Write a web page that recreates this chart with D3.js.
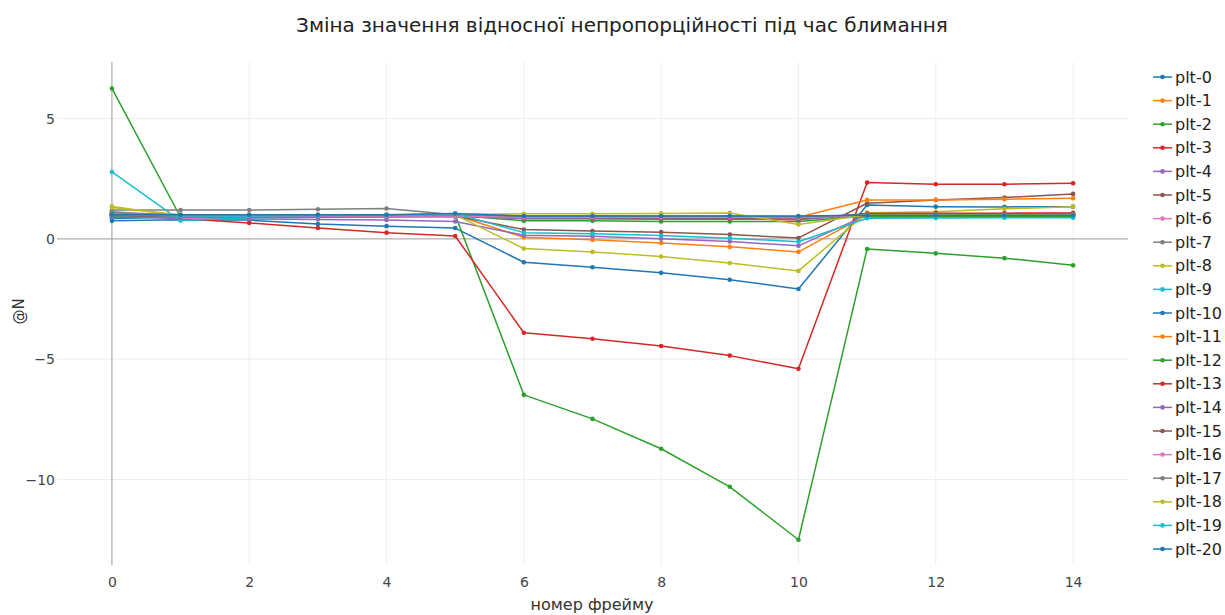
<!DOCTYPE html>
<html>
<head>
<meta charset="utf-8">
<script src="https://cdn.jsdelivr.net/npm/d3@7"></script>
<style>
  html, body { margin: 0; padding: 0; background: #fff; }
  svg { display: block; font-family: "DejaVu Sans", verdana, arial, sans-serif; }
</style>
</head>
<body>
<svg id="chart" width="1225" height="615"></svg>
<script>
// Frame numbers along the x axis
const frames = d3.range(0, 15);

// Series names, one per plot
const seriesNames = d3.range(0, 21).map(i => "plt-" + i);

// Relative disproportion per frame for each plot
const plt0  = [0.75, 0.80, 0.78, 0.62, 0.53, 0.45, -0.97, -1.18, -1.41, -1.70, -2.08, 1.41, 1.34, 1.33, 1.34];
const plt1  = [1.05, 0.90, 0.92, 0.95, 0.95, 0.98, 0.07, -0.04, -0.17, -0.33, -0.54, 1.00, 1.02, 1.03, 1.04];
const plt2  = [6.25, 0.90, 0.92, 0.95, 0.96, 1.00, -6.48, -7.48, -8.72, -10.30, -12.50, -0.42, -0.60, -0.80, -1.10];
const plt3  = [1.00, 0.85, 0.66, 0.45, 0.26, 0.12, -3.90, -4.15, -4.45, -4.85, -5.40, 2.34, 2.27, 2.27, 2.31];
const plt4  = [0.95, 0.85, 0.83, 0.81, 0.79, 0.72, 0.15, 0.11, 0.01, -0.11, -0.29, 1.00, 1.00, 1.00, 1.00];
const plt5  = [1.10, 0.90, 0.90, 0.92, 0.93, 0.95, 0.39, 0.33, 0.28, 0.18, 0.04, 1.48, 1.62, 1.72, 1.87];
const plt6  = [1.15, 0.85, 0.88, 0.90, 0.92, 0.92, 0.88, 0.87, 0.87, 0.86, 0.86, 1.00, 1.00, 1.00, 1.00];
const plt7  = [1.20, 1.20, 1.20, 1.23, 1.26, 1.00, 0.92, 0.92, 0.90, 0.90, 0.88, 1.02, 1.02, 1.02, 1.02];
const plt8  = [1.35, 0.95, 0.95, 0.97, 0.98, 1.00, -0.40, -0.54, -0.73, -1.00, -1.33, 1.09, 1.13, 1.25, 1.34];
const plt9  = [2.78, 0.76, 0.88, 0.90, 0.92, 0.95, 0.90, 0.90, 0.90, 0.90, 0.90, 0.90, 0.90, 0.90, 0.90];
const plt10 = [0.85, 0.90, 0.90, 0.92, 0.93, 1.02, 0.85, 0.85, 0.84, 0.84, 0.90, 1.00, 1.00, 1.00, 1.00];
const plt11 = [1.00, 0.95, 0.95, 0.97, 0.98, 1.00, 0.95, 0.95, 0.93, 0.93, 0.90, 1.62, 1.62, 1.65, 1.69];
const plt12 = [0.95, 0.92, 0.93, 0.95, 0.96, 0.98, 0.75, 0.75, 0.72, 0.72, 0.72, 0.95, 0.93, 0.92, 0.92];
const plt13 = [1.00, 0.90, 0.92, 0.93, 0.95, 0.97, 0.85, 0.85, 0.83, 0.83, 0.80, 1.05, 1.07, 1.07, 1.08];
const plt14 = [0.90, 0.90, 0.90, 0.92, 0.92, 0.93, 0.85, 0.85, 0.85, 0.85, 0.82, 0.98, 0.98, 0.98, 0.98];
const plt15 = [1.00, 0.95, 0.96, 0.97, 0.98, 1.00, 0.90, 0.88, 0.88, 0.87, 0.85, 1.02, 1.03, 1.03, 1.04];
const plt16 = [1.05, 0.95, 0.95, 0.95, 0.95, 0.95, 0.90, 0.90, 0.90, 0.90, 0.88, 0.98, 0.98, 0.99, 0.99];
const plt17 = [1.10, 1.00, 1.00, 1.00, 1.00, 1.00, 0.95, 0.95, 0.95, 0.95, 0.92, 1.00, 1.00, 1.00, 1.00];
const plt18 = [1.30, 1.00, 1.00, 1.00, 1.00, 1.02, 1.04, 1.04, 1.06, 1.08, 0.60, 1.00, 1.00, 1.00, 1.00];
const plt19 = [1.00, 0.95, 0.95, 0.97, 0.98, 1.05, 0.26, 0.21, 0.14, 0.03, -0.12, 0.86, 0.87, 0.88, 0.88];
const plt20 = [1.00, 1.00, 1.00, 1.00, 1.00, 1.05, 0.95, 0.95, 0.95, 0.95, 0.95, 0.98, 0.98, 0.98, 0.98];

const seriesValues = [plt0, plt1, plt2, plt3, plt4, plt5, plt6, plt7, plt8, plt9, plt10,
                      plt11, plt12, plt13, plt14, plt15, plt16, plt17, plt18, plt19, plt20];

const xTicks = [0, 2, 4, 6, 8, 10, 12, 14];
const yTicks = [-10, -5, 0, 5];

const titleText = "Зміна значення відносної непропорційності під час блимання";
const xTitle = "номер фрейму";
const yTitle = "@N";

const palette = ["#1f77b4", "#ff7f0e", "#2ca02c", "#d62728", "#9467bd",
                 "#8c564b", "#e377c2", "#7f7f7f", "#bcbd22", "#17becf"];

const svg = d3.select("#chart");
const plot = { left: 57, right: 1128, top: 62, bottom: 565 };

const x = d3.scaleLinear().domain([-0.8, 14.8]).range([plot.left, plot.right]);
const y = d3.scaleLinear().domain([-13.55, 7.35]).range([plot.bottom, plot.top]);
const color = d3.scaleOrdinal().domain(seriesNames).range(palette);

const fontStack = '"DejaVu Sans", verdana, arial, sans-serif';

// Grid lines
const grid = svg.append("g");
grid.selectAll(".vgrid").data(xTicks.filter(d => d !== 0)).join("line")
  .attr("x1", d => x(d)).attr("x2", d => x(d))
  .attr("y1", plot.top).attr("y2", plot.bottom)
  .attr("stroke", "#eeeeee").attr("stroke-width", 1);
grid.selectAll(".hgrid").data(yTicks.filter(d => d !== 0)).join("line")
  .attr("x1", plot.left).attr("x2", plot.right)
  .attr("y1", d => y(d)).attr("y2", d => y(d))
  .attr("stroke", "#eeeeee").attr("stroke-width", 1);

// Zero lines
grid.append("line")
  .attr("x1", x(0)).attr("x2", x(0)).attr("y1", plot.top).attr("y2", plot.bottom)
  .attr("stroke", "#999").attr("stroke-width", 1);
grid.append("line")
  .attr("x1", plot.left).attr("x2", plot.right).attr("y1", y(0)).attr("y2", y(0))
  .attr("stroke", "#999").attr("stroke-width", 1);

// Axes (labels only, no domain line)
const xAxis = svg.append("g")
  .attr("transform", `translate(0,${plot.bottom})`)
  .call(d3.axisBottom(x).tickValues(xTicks).tickSize(0).tickPadding(12).tickFormat(d3.format("d")));
xAxis.select(".domain").remove();
xAxis.selectAll("text").attr("font-size", 14).attr("fill", "#444").style("font-family", fontStack);

const yAxis = svg.append("g")
  .attr("transform", `translate(${plot.left},0)`)
  .call(d3.axisLeft(y).tickValues(yTicks).tickSize(0).tickPadding(2).tickFormat(d3.format("d")));
yAxis.select(".domain").remove();
yAxis.selectAll("text").attr("font-size", 14).attr("fill", "#444").style("font-family", fontStack);

// Series
const series = seriesNames.map((name, i) => ({
  name, values: seriesValues[i].map((v, j) => ({ frame: frames[j], value: v }))
}));

const line = d3.line().x(d => x(d.frame)).y(d => y(d.value));

const traces = svg.append("g").selectAll("g").data(series).join("g");
traces.append("path")
  .attr("d", d => line(d.values))
  .attr("fill", "none")
  .attr("stroke", d => color(d.name))
  .attr("stroke-width", 1.5)
  .attr("stroke-linejoin", "round");
traces.selectAll("circle").data(d => d.values.map(v => ({ ...v, name: d.name }))).join("circle")
  .attr("cx", d => x(d.frame)).attr("cy", d => y(d.value)).attr("r", 2.3)
  .attr("fill", d => color(d.name));

// Title
svg.append("text")
  .attr("x", 622).attr("y", 32)
  .attr("text-anchor", "middle")
  .attr("font-size", 20).attr("fill", "#222")
  .text(titleText);

// Axis titles
svg.append("text")
  .attr("x", 592).attr("y", 610)
  .attr("text-anchor", "middle")
  .attr("font-size", 16).attr("fill", "#333")
  .text(xTitle);
svg.append("text")
  .attr("transform", `translate(24,${(plot.top + plot.bottom) / 2 - 2}) rotate(-90)`)
  .attr("text-anchor", "middle")
  .attr("font-size", 15).attr("fill", "#333")
  .text(yTitle);

// Legend
const legend = svg.append("g").attr("transform", "translate(1153,77)");
const item = legend.selectAll("g").data(seriesNames).join("g")
  .attr("transform", (d, i) => `translate(0,${i * 23.6})`);
item.append("line").attr("x1", 0).attr("x2", 19).attr("y1", 0).attr("y2", 0)
  .attr("stroke", d => color(d)).attr("stroke-width", 1.5);
item.append("circle").attr("cx", 9.5).attr("cy", 0).attr("r", 2.3).attr("fill", d => color(d));
item.append("text").attr("x", 22).attr("y", 0).attr("dy", "0.35em")
  .attr("font-size", 16).attr("fill", "#222").text(d => d);
</script>
</body>
</html>
